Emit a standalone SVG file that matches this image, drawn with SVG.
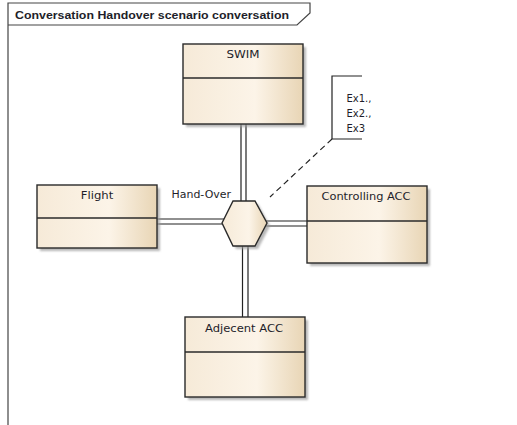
<svg xmlns="http://www.w3.org/2000/svg" width="517" height="425" viewBox="0 0 517 425">
<style>
.box{fill:url(#g);stroke:#2a2a2a;stroke-width:1.4}
.sh{fill:#9a9a9a;opacity:0.7}
.div{stroke:#2a2a2a;stroke-width:1.4}
.lbl{font-family:"DejaVu Sans","Liberation Sans",sans-serif;font-size:10px;fill:#1e1e2a;text-anchor:middle}
.txt{font-family:"DejaVu Sans","Liberation Sans",sans-serif;font-size:10px;fill:#1e1e2a}
.con{stroke:#222;stroke-width:1.2;fill:none}
.frame{stroke:#444;stroke-width:1.2;fill:none}
</style>
<defs>
<linearGradient id="g" x1="0" y1="0" x2="1" y2="0">
<stop offset="0" stop-color="#f6ead8"/>
<stop offset="0.6" stop-color="#fcf4e8"/>
<stop offset="1" stop-color="#e8d5b5"/>
</linearGradient>
<filter id="blur" x="-10%" y="-10%" width="130%" height="130%"><feGaussianBlur stdDeviation="1"/></filter>
</defs>
<rect width="517" height="425" fill="#fff"/>
<g id="frame">
<path class="frame" d="M8,425 V3 H310 V13 L297,25 H8"/>
<text x="15" y="19" style="font-family:'Liberation Sans',Arial,sans-serif;font-size:11px;font-weight:bold;fill:#1e1e2a" textLength="274" lengthAdjust="spacingAndGlyphs">Conversation Handover scenario conversation</text>
</g>
<g id="connectors">
<line class="con" x1="241" y1="124" x2="241" y2="203"/>
<line class="con" x1="246" y1="124" x2="246" y2="203"/>
<line class="con" x1="242.5" y1="244" x2="242.5" y2="317"/>
<line class="con" x1="248" y1="244" x2="248" y2="317"/>
<line class="con" x1="157" y1="219" x2="226" y2="219"/>
<line class="con" x1="157" y1="224" x2="226" y2="224"/>
<line class="con" x1="262" y1="221" x2="307" y2="221"/>
<line class="con" x1="262" y1="226" x2="307" y2="226"/>
<line class="con" x1="332" y1="139" x2="270" y2="197" stroke-dasharray="6,4"/>
<text class="txt" x="171.5" y="198" textLength="59.5" lengthAdjust="spacingAndGlyphs">Hand-Over</text>
</g>
<g id="swim">
<rect class="sh" x="186" y="47" width="120" height="80" filter="url(#blur)"/>
<rect class="box" x="183" y="44" width="120" height="80"/>
<line class="div" x1="183" y1="78" x2="303" y2="78"/>
<text class="lbl" x="243" y="58" textLength="33" lengthAdjust="spacingAndGlyphs">SWIM</text>
</g>
<g id="flight">
<rect class="sh" x="40" y="188" width="120" height="63" filter="url(#blur)"/>
<rect class="box" x="37" y="185" width="120" height="63"/>
<line class="div" x1="37" y1="218" x2="157" y2="218"/>
<text class="lbl" x="97" y="199" textLength="32.5" lengthAdjust="spacingAndGlyphs">Flight</text>
</g>
<g id="controlling">
<rect class="sh" x="310" y="189" width="120" height="77" filter="url(#blur)"/>
<rect class="box" x="307" y="186" width="120" height="77"/>
<line class="div" x1="307" y1="221" x2="427" y2="221"/>
<text class="lbl" x="366" y="200" textLength="89" lengthAdjust="spacingAndGlyphs">Controlling ACC</text>
</g>
<g id="adjecent">
<rect class="sh" x="188" y="320" width="120" height="80" filter="url(#blur)"/>
<rect class="box" x="185" y="317" width="120" height="80"/>
<line class="div" x1="185" y1="352" x2="305" y2="352"/>
<text class="lbl" x="244" y="331.5" textLength="78" lengthAdjust="spacingAndGlyphs">Adjecent ACC</text>
</g>
<g id="handover">
<polygon class="sh" points="225,226 236,204 258,204 270,226 258,249 236,249" filter="url(#blur)"/>
<polygon class="box" points="222,223 233,201 255,201 267,223 255,246 233,246"/>
</g>
<g id="note">
<path class="con" d="M362,76 H332 V139 H362"/>
<text class="txt" x="346.5" y="102">Ex1.,</text>
<text class="txt" x="346.5" y="117">Ex2.,</text>
<text class="txt" x="346.5" y="132">Ex3</text>
</g>
</svg>
